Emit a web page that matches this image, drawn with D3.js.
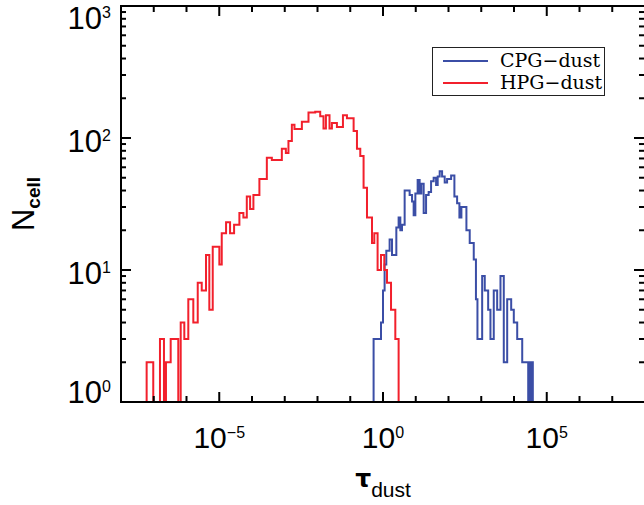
<!DOCTYPE html>
<html>
<head>
<meta charset="utf-8">
<script src="https://cdn.jsdelivr.net/npm/d3@7"></script>
<style>
  body { margin: 0; background: #fff; }
  svg { display: block; }
</style>
</head>
<body>
<svg id="chart"></svg>
<script>
const width = 644;
const height = 505;

// Histogram bins: left/right edges in log10(tau_dust) and cell counts
const cpgLogEdges = [-0.287, -0.061, 0.000, 0.049, 0.101, 0.202, 0.275, 0.407, 0.477, 0.529,
  0.581, 0.661, 0.813, 0.887, 0.936, 0.988, 1.058, 1.119, 1.171, 1.242,
  1.315, 1.394, 1.468, 1.547, 1.621, 1.670, 1.731, 1.804, 1.884, 1.957,
  2.080, 2.180, 2.263, 2.333, 2.394, 2.547, 2.648, 2.771, 2.838, 2.884,
  3.028, 3.107, 3.211, 3.281, 3.382, 3.486, 3.587, 3.688, 3.792, 3.914,
  3.994, 4.098, 4.251, 4.434, 4.474, 4.505, 4.544, 4.575, 4.606];
const cpgCounts = [3, 4, 7, 11, 14, 17, 13, 21, 25, 20,
  22, 40, 37, 33, 26, 38, 48, 38, 45, 27,
  37, 39, 47, 50, 44, 51, 56, 51, 46, 49,
  52, 36, 32, 25, 30, 20, 16, 12, 6, 3,
  9, 7, 5, 3, 7, 5, 9, 2, 6, 5,
  4, 3, 2, 1, 2, 1, 2, 1];

const hpgLogEdges = [-7.217, -7.015, -6.810, -6.688, -6.627, -6.483, -6.251, -6.177, -6.067, -5.945,
  -5.792, -5.657, -5.535, -5.404, -5.303, -5.199, -4.997, -4.924, -4.792, -4.670,
  -4.547, -4.385, -4.263, -4.159, -4.058, -3.957, -3.774, -3.547, -3.394, -3.089,
  -2.966, -2.887, -2.783, -2.703, -2.477, -2.275, -2.070, -1.917, -1.817, -1.743,
  -1.633, -1.560, -1.407, -1.223, -1.101, -0.897, -0.795, -0.694, -0.593, -0.489,
  -0.336, -0.266, -0.165, -0.061, 0.040, 0.122, 0.245, 0.376, 0.477];
const hpgCounts = [2, 0, 3, 0, 2, 3, 0, 4, 3, 6,
  4, 8, 7, 13, 5, 15, 11, 19, 23, 19,
  22, 27, 25, 36, 29, 37, 49, 71, 68, 83,
  77, 95, 126, 117, 133, 156, 158, 146, 118, 149,
  118, 130, 121, 149, 141, 113, 83, 73, 42, 25,
  16, 19, 10, 13, 10, 8, 5, 3];

// Axis ticks (exponents)
const xTickExps = d3.range(-8, 9);
const xLabelExps = [-5, 0, 5];
const yTickExps = [0, 1, 2, 3];
const yLabelShift = { 0: 1, 1: 14, 2: 14, 3: 23 };

const seriesNames = ["CPG\u2212dust", "HPG\u2212dust"];
const seriesColors = ["#3b4ea6", "#f2202c"];

const plot = { left: 121, right: 645, top: 6, bottom: 402 };

const svg = d3.select("#chart")
  .attr("width", width)
  .attr("height", height);

const x = d3.scaleLog().domain([1e-8, 1e8]).range([plot.left, plot.right]);
const y = d3.scaleLog().domain([1, 1000]).range([plot.bottom, plot.top]);

svg.append("defs").append("clipPath").attr("id", "clip")
  .append("rect")
  .attr("x", plot.left).attr("y", plot.top - 2)
  .attr("width", plot.right - plot.left).attr("height", plot.bottom - plot.top + 3);

// step line of a histogram, empty bins lie on the bottom axis
function stepPath(logEdges, counts, fromExp, toExp) {
  const base = y(1);
  const pts = [[x(10 ** fromExp), base], [x(10 ** logEdges[0]), base]];
  counts.forEach((c, i) => {
    const yy = c > 1 ? y(c) : base;
    pts.push([x(10 ** logEdges[i]), yy]);
    pts.push([x(10 ** logEdges[i + 1]), yy]);
  });
  pts.push([x(10 ** logEdges[logEdges.length - 1]), base]);
  pts.push([x(10 ** toExp), base]);
  return d3.line()(pts);
}

const lines = svg.append("g").attr("clip-path", "url(#clip)");

lines.append("path")
  .attr("d", stepPath(cpgLogEdges, cpgCounts, cpgLogEdges[0], cpgLogEdges[cpgLogEdges.length - 1]))
  .attr("fill", "none")
  .attr("stroke", seriesColors[0])
  .attr("stroke-width", 2);

lines.append("path")
  .attr("d", stepPath(hpgLogEdges, hpgCounts, -8, 1.4))
  .attr("fill", "none")
  .attr("stroke", seriesColors[1])
  .attr("stroke-width", 2);

// frame
const axes = svg.append("g").attr("stroke", "#000").attr("stroke-width", 2);
axes.append("rect")
  .attr("x", plot.left).attr("y", plot.top)
  .attr("width", plot.right - plot.left).attr("height", plot.bottom - plot.top)
  .attr("fill", "none");

// x ticks, bottom and top
xTickExps.forEach(e => {
  const xx = x(10 ** e);
  const len = xLabelExps.includes(e) ? 10 : 6;
  axes.append("line").attr("x1", xx).attr("x2", xx).attr("y1", plot.bottom).attr("y2", plot.bottom - len);
  axes.append("line").attr("x1", xx).attr("x2", xx).attr("y1", plot.top).attr("y2", plot.top + len);
});

// y ticks, left and right
yTickExps.forEach(e => {
  const vals = e < 3 ? d3.range(1, 10).map(m => m * 10 ** e) : [10 ** e];
  vals.forEach((v, i) => {
    const yy = y(v);
    const len = i === 0 ? 10 : 5;
    axes.append("line").attr("x1", plot.left).attr("x2", plot.left + len).attr("y1", yy).attr("y2", yy);
    axes.append("line").attr("x1", plot.right).attr("x2", plot.right - len - 1).attr("y1", yy).attr("y2", yy);
  });
});

const labelFont = "'Liberation Sans', Arial, sans-serif";

// x tick labels
xLabelExps.forEach(e => {
  const t = svg.append("text")
    .attr("x", x(10 ** e))
    .attr("y", 448)
    .attr("text-anchor", "middle")
    .attr("font-family", labelFont)
    .attr("font-size", 30);
  t.append("tspan").text("10");
  t.append("tspan").attr("dy", -10).attr("font-size", 16)
    .text(e < 0 ? "\u2212" + (-e) : String(e));
});

// y tick labels
yTickExps.forEach(e => {
  const t = svg.append("text")
    .attr("x", 111)
    .attr("y", y(10 ** e) + yLabelShift[e])
    .attr("text-anchor", "end")
    .attr("font-family", labelFont)
    .attr("font-size", 31);
  t.append("tspan").text("10");
  t.append("tspan").attr("dy", -11).attr("font-size", 16).text(String(e));
});

// x title
const xt = svg.append("text")
  .attr("x", (plot.left + plot.right) / 2)
  .attr("y", 487)
  .attr("text-anchor", "middle")
  .attr("font-family", labelFont);
xt.append("tspan").attr("font-family", "'DejaVu Sans', sans-serif").attr("font-weight", "bold")
  .attr("font-size", 25).text("\u03c4");
xt.append("tspan").attr("dy", 10).attr("font-size", 21).text("dust");

// y title
const yt = svg.append("text")
  .attr("transform", `translate(34,${(plot.top + plot.bottom) / 2}) rotate(-90)`)
  .attr("text-anchor", "middle")
  .attr("font-family", labelFont);
yt.append("tspan").attr("font-size", 31).text("N");
yt.append("tspan").attr("dy", 6).attr("font-size", 19).attr("font-weight", "bold").text("cell");

// legend
const legend = svg.append("g");
legend.append("rect")
  .attr("x", 432.5).attr("y", 47.5).attr("width", 172).attr("height", 48)
  .attr("fill", "#fff").attr("stroke", "#222").attr("stroke-width", 1);
seriesNames.forEach((name, i) => {
  const ly = 61 + i * 22;
  legend.append("line")
    .attr("x1", 443).attr("x2", 488).attr("y1", ly).attr("y2", ly)
    .attr("stroke", seriesColors[i]).attr("stroke-width", 2);
  legend.append("text")
    .attr("x", 500).attr("y", ly + 6)
    .attr("font-family", "'DejaVu Serif', serif")
    .attr("font-size", 19)
    .text(name);
});
</script>
</body>
</html>
